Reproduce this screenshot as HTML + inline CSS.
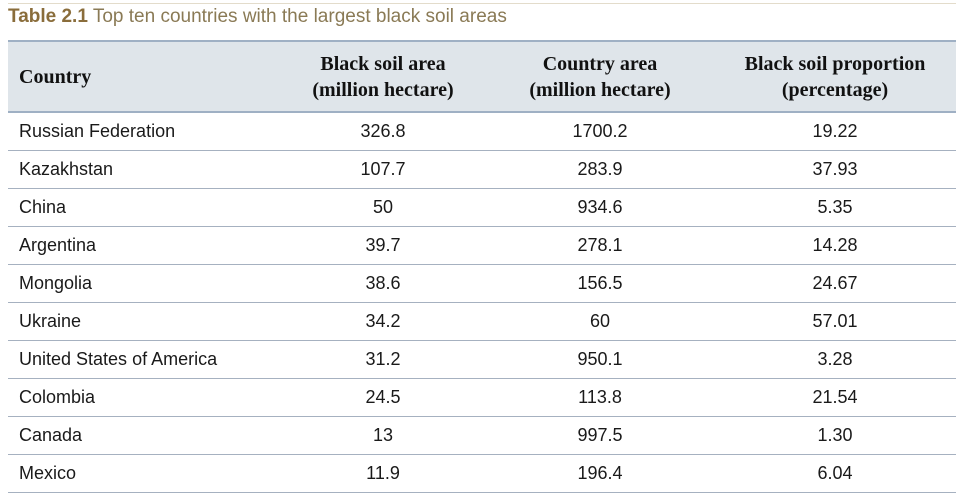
<!DOCTYPE html>
<html><head><meta charset="utf-8"><style>
body{margin:0;width:965px;height:498px;background:#fff;position:relative;overflow:hidden;font-family:"Liberation Sans",sans-serif}
.topline{position:absolute;left:8px;top:3px;width:948px;height:1px;background:#e3dccb}
.title{position:absolute;left:8px;top:6px;font-size:19px;color:#8a7a55;white-space:nowrap}
.title b{color:#8a6d3b}
table{position:absolute;left:8px;top:40px;width:948px;border-collapse:collapse}
thead tr{background:#dfe5ea;height:71px}
th{font-family:"Liberation Serif",serif;font-weight:bold;font-size:20px;line-height:26px;color:#111;border-top:2px solid #9fb0c4;border-bottom:2px solid #9fb0c4;padding:0}
th:first-child{text-align:left;padding-left:11px}
td{height:37px;border-bottom:1.5px solid #a6b1c0;font-size:18px;color:#1a1a1a;text-align:center;padding:0}
td:first-child{text-align:left;padding-left:11px}
</style></head><body>
<div class="topline"></div>
<div class="title"><b>Table 2.1</b> Top ten countries with the largest black soil areas</div>
<table>
<colgroup><col style="width:272px"><col style="width:206px"><col style="width:228px"><col style="width:242px"></colgroup>
<thead><tr>
<th>Country</th>
<th>Black soil area<br>(million hectare)</th>
<th>Country area<br>(million hectare)</th>
<th>Black soil proportion<br>(percentage)</th>
</tr></thead>
<tbody>
<tr><td>Russian Federation</td><td>326.8</td><td>1700.2</td><td>19.22</td></tr>
<tr><td>Kazakhstan</td><td>107.7</td><td>283.9</td><td>37.93</td></tr>
<tr><td>China</td><td>50</td><td>934.6</td><td>5.35</td></tr>
<tr><td>Argentina</td><td>39.7</td><td>278.1</td><td>14.28</td></tr>
<tr><td>Mongolia</td><td>38.6</td><td>156.5</td><td>24.67</td></tr>
<tr><td>Ukraine</td><td>34.2</td><td>60</td><td>57.01</td></tr>
<tr><td>United States of America</td><td>31.2</td><td>950.1</td><td>3.28</td></tr>
<tr><td>Colombia</td><td>24.5</td><td>113.8</td><td>21.54</td></tr>
<tr><td>Canada</td><td>13</td><td>997.5</td><td>1.30</td></tr>
<tr><td>Mexico</td><td>11.9</td><td>196.4</td><td>6.04</td></tr>
</tbody></table>
</body></html>
